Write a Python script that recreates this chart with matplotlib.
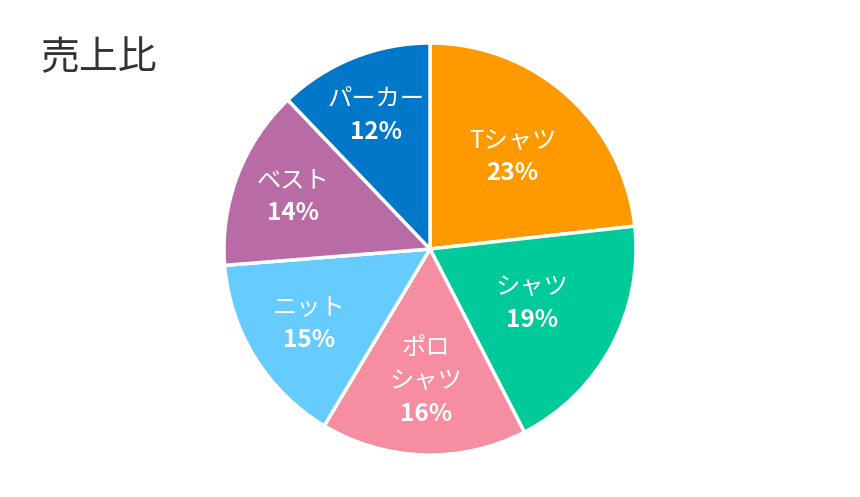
import numpy as np
import matplotlib.pyplot as plt

plt.rcParams['font.family'] = ['Noto Sans CJK JP', 'DejaVu Sans']

# データ
items = ['Tシャツ', 'シャツ', 'ポロ\nシャツ', 'ニット', 'ベスト', 'パーカー']
shares = [23, 19, 16, 15, 14, 12]
pct_labels = ['23%', '19%', '16%', '15%', '14%', '12%']

colors = ['#FF9900', '#00C99A', '#F78DA0', '#66CCFF', '#B86BA5', '#0077C8']
label_r = [0.60, 0.56, 0.64, 0.69, 0.71, 0.70]

fig = plt.figure(figsize=(8.6, 4.97), dpi=100)
# 円グラフ用の正方形エリア (ピクセル: 224..636, 43..455)
ax = fig.add_axes([224 / 860, (497 - 455) / 497, 412 / 860, 412 / 497])

wedges, _ = ax.pie(shares, colors=colors, startangle=90, counterclock=False,
                   radius=1.0, wedgeprops=dict(edgecolor='white', linewidth=2.5))
ax.set_xlim(-1, 1)
ax.set_ylim(-1, 1)
ax.set_aspect('auto')
ax.axis('off')

# ラベル
step = 0.16
for w, name, pct, r in zip(wedges, items, pct_labels, label_r):
    mid = np.deg2rad((w.theta1 + w.theta2) / 2)
    cx = r * np.cos(mid)
    cy = r * np.sin(mid)
    lines = name.split('\n') + [pct]
    n = len(lines)
    for k, txt in enumerate(lines):
        y = cy + (n - 1) / 2 * step - k * step
        bold = (k == n - 1)
        ax.text(cx, y, txt, ha='center', va='center', color='white',
                fontsize=17.5, fontweight='bold' if bold else 'normal')

fig.text(40 / 860, 1 - 58 / 497, '売上比', ha='left', va='center',
         fontsize=28, color='#333333')

fig.savefig('out.png', dpi=100)
